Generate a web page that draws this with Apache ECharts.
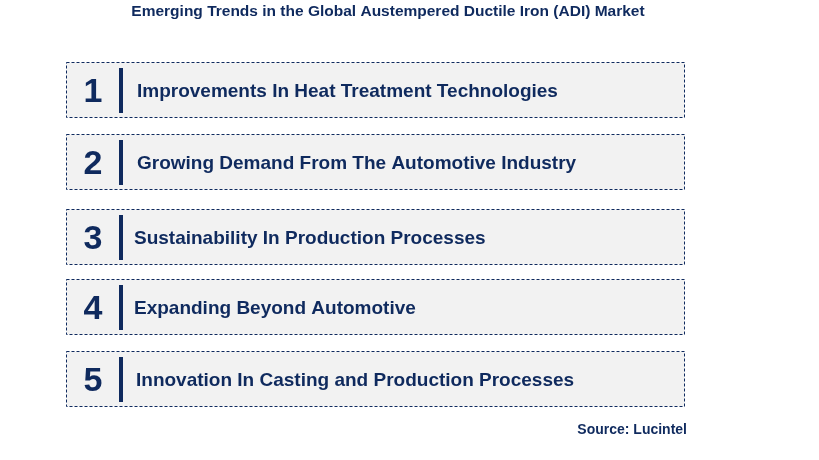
<html>
<head>
<script src="https://cdn.jsdelivr.net/npm/echarts@6/dist/echarts.min.js"></script>
<style>body{margin:0}#container{width:819px;height:460px}</style>
</head>
<body>
<div id="container"></div>
<script>
const numbers = ['1', '2', '3', '4', '5'];
const trends = [
  'Improvements In Heat Treatment Technologies',
  'Growing Demand From The Automotive Industry',
  'Sustainability In Production Processes',
  'Expanding Beyond Automotive',
  'Innovation In Casting and Production Processes'
];
const boxTops = [62, 134, 209, 279, 351];
const textLeft = [137, 137, 134, 134, 136];

const navy = '#0f2a5e';
let mychart = echarts.init(document.getElementById('container'));
let elements = [];
trends.forEach((t, i) => {
  let y = boxTops[i];
  elements.push({
    type: 'rect',
    shape: { x: 66.5, y: y + 0.5, width: 618, height: 55 },
    style: { fill: '#f2f2f2', stroke: navy, lineWidth: 1, lineDash: [3, 2] }
  });
  elements.push({
    type: 'text', x: 93, y: y + 31,
    style: { text: numbers[i], font: 'bold 34px Arial', fill: navy, align: 'center', verticalAlign: 'middle' }
  });
  elements.push({
    type: 'rect', shape: { x: 119, y: y + 6, width: 4, height: 45 }, style: { fill: navy }
  });
  elements.push({
    type: 'text', x: textLeft[i], y: y + 30,
    style: { text: t, font: 'bold 19px Arial', fill: navy, verticalAlign: 'middle' }
  });
});
elements.push({
  type: 'text', x: 388, y: 12,
  style: { text: 'Emerging Trends in the Global Austempered Ductile Iron (ADI) Market', font: 'bold 15.5px Arial', fill: navy, align: 'center', verticalAlign: 'middle' }
});
elements.push({
  type: 'text', x: 687, y: 430,
  style: { text: 'Source: Lucintel', font: 'bold 14px Arial', fill: navy, align: 'right', verticalAlign: 'middle' }
});
mychart.setOption({ graphic: elements });
</script>
</body>
</html>
